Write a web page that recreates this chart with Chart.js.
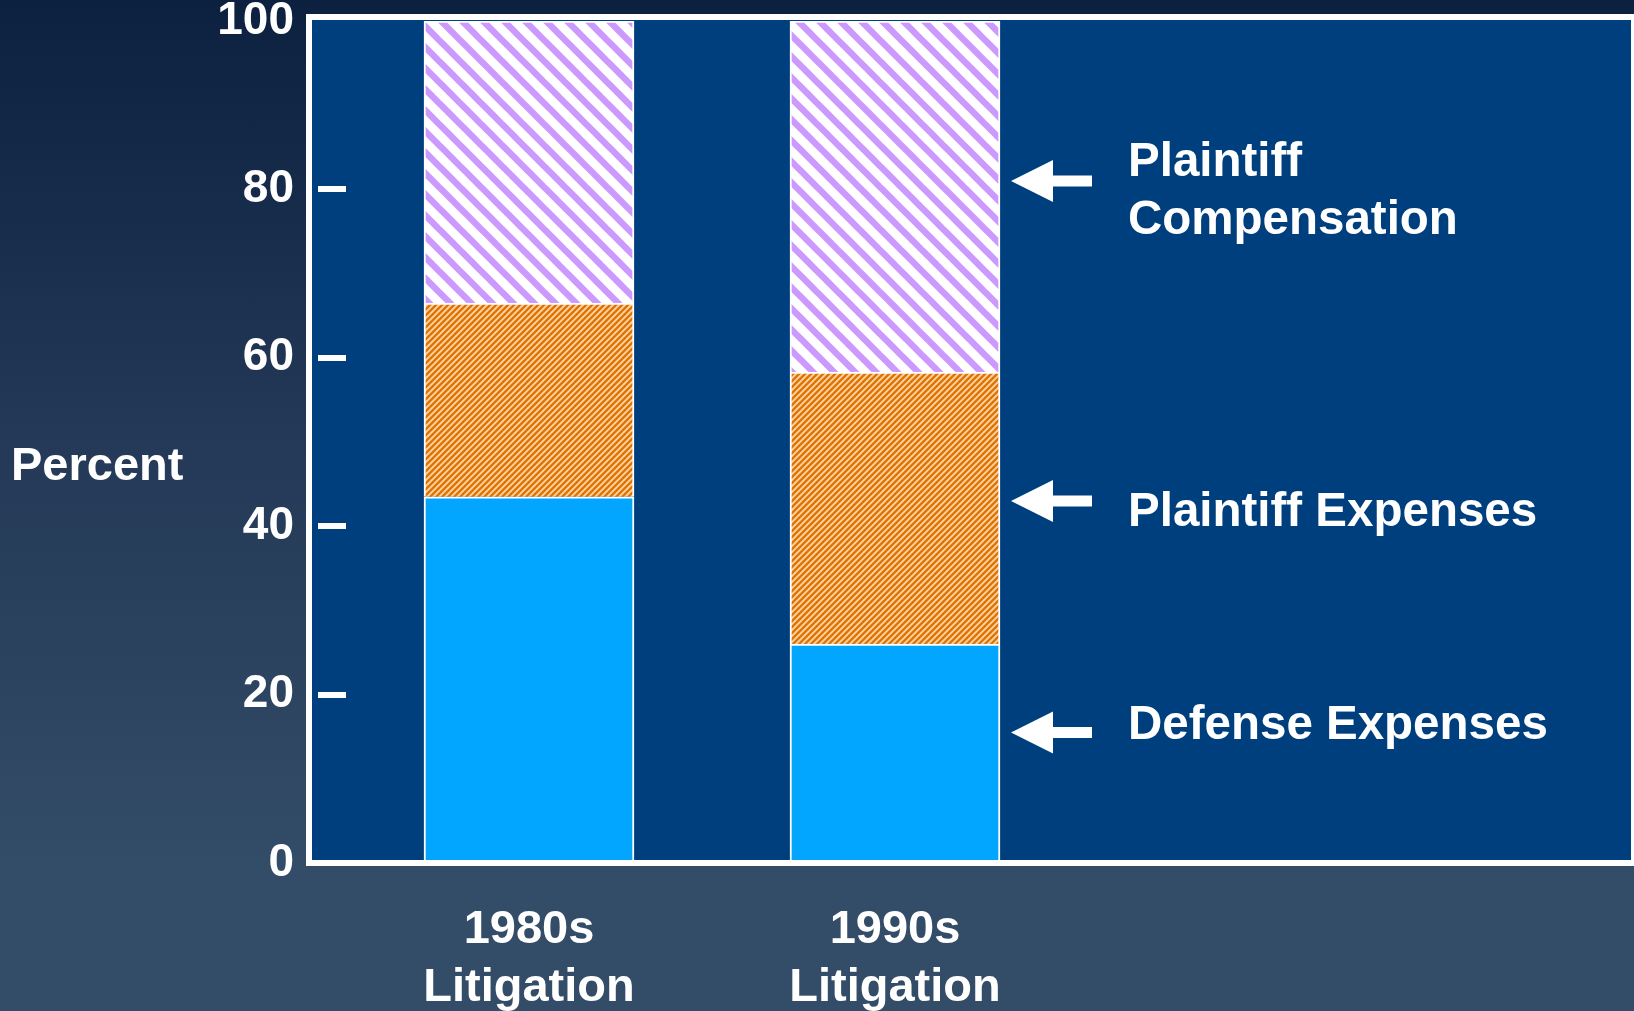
<!DOCTYPE html>
<html><head><meta charset="utf-8">
<script src="https://cdn.jsdelivr.net/npm/chart.js@4.4.1/dist/chart.umd.min.js"></script>
<style>
html,body{margin:0;padding:0;width:1634px;height:1011px;overflow:hidden;
background:linear-gradient(180deg,#0c2040 0%,#243a58 45%,#334c67 86%,#334c67 100%);}
#wrap{position:absolute;left:0;top:0;width:1634px;height:1011px;}
</style></head><body><div id="wrap"><canvas id="c" width="1634" height="1011"></canvas></div>
<script>
// ---- data ----
const categories = [['1980s', 'Litigation'], ['1990s', 'Litigation']];
const seriesNames = ['Defense Expenses', 'Plaintiff Expenses', 'Plaintiff Compensation'];
const defenseExpenses = [43.5, 26];
const plaintiffExpenses = [23, 32.3];
const plaintiffCompensation = [33.5, 41.7];
const yTicks = [0, 20, 40, 60, 80, 100];
const yAxisTitle = 'Percent';
// annotations (top to bottom): text lines, arrow value, text-block centre value
const annotationLines = [['Plaintiff', 'Compensation'], ['Plaintiff Expenses'], ['Defense Expenses']];
const annotationArrowAt = [81, 43, 15.5];
const annotationTextAt = [80.1, 41.9, 16.6];

const FONT = "'Liberation Sans', Arial, Helvetica, sans-serif";
Chart.defaults.font.family = FONT;
Chart.defaults.font.weight = 'bold';
Chart.defaults.color = '#ffffff';

function makePattern(size, bg, fg, lw, dir) {
  const cv = document.createElement('canvas');
  cv.width = size; cv.height = size;
  const g = cv.getContext('2d');
  g.fillStyle = bg; g.fillRect(0, 0, size, size);
  g.strokeStyle = fg; g.lineWidth = lw; g.lineCap = 'square';
  for (let k = -1; k <= 1; k++) {
    g.beginPath();
    if (dir === 'back') { g.moveTo(k * size, 0); g.lineTo(k * size + size, size); }
    else { g.moveTo(k * size, size); g.lineTo(k * size + size, 0); }
    g.stroke();
  }
  return g.createPattern(cv, 'repeat');
}
const purplePattern = makePattern(21, '#ffffff', '#cc99ff', 6.5, 'back');
const orangePattern = makePattern(6, '#e07400', 'rgba(255,225,190,0.9)', 1.8, 'fwd');

const framePlugin = {
  id: 'frame',
  beforeDraw(chart) {
    const c = chart.ctx;
    c.save();
    c.fillStyle = '#003f7e';
    c.fillRect(312, 20, 1319, 840);
    c.strokeStyle = '#ffffff';
    c.lineWidth = 6;
    c.strokeRect(309, 17, 1325, 846);
    c.restore();
  },
  afterDraw(chart) {
    const c = chart.ctx;
    const y = chart.scales.y;
    c.save();
    c.fillStyle = '#ffffff';
    c.font = 'bold 47px ' + FONT;
    c.textBaseline = 'middle';
    c.textAlign = 'left';
    c.fillText(yAxisTitle, 11, 467);
    c.font = 'bold 47.5px ' + FONT;
    annotationLines.forEach((lines, i) => {
      const ay = y.getPixelForValue(annotationArrowAt[i]);
      c.beginPath();
      c.moveTo(1011, ay);
      c.lineTo(1053, ay - 21);
      c.lineTo(1053, ay - 5.5);
      c.lineTo(1092, ay - 5.5);
      c.lineTo(1092, ay + 5.5);
      c.lineTo(1053, ay + 5.5);
      c.lineTo(1053, ay + 21);
      c.closePath();
      c.fill();
      const ty = y.getPixelForValue(annotationTextAt[i]) + 3;
      const lh = 58;
      const y0 = ty - (lines.length - 1) * lh / 2;
      lines.forEach((t, j) => c.fillText(t, 1128, y0 + j * lh));
    });
    c.restore();
  }
};

new Chart(document.getElementById('c'), {
  type: 'bar',
  data: {
    labels: categories,
    datasets: [
      { label: seriesNames[0], data: defenseExpenses, backgroundColor: '#03a6ff' },
      { label: seriesNames[1], data: plaintiffExpenses, backgroundColor: orangePattern },
      { label: seriesNames[2], data: plaintiffCompensation, backgroundColor: purplePattern }
    ]
  },
  options: {
    responsive: false,
    animation: false,
    layout: { padding: { left: 0, top: 21, right: 556, bottom: 0 } },
    datasets: { bar: { barThickness: 210, borderColor: '#ffffff', borderWidth: 2 } },
    plugins: { legend: { display: false }, tooltip: { enabled: false } },
    scales: {
      x: {
        stacked: true,
        grid: { display: false, drawTicks: false },
        border: { display: false },
        ticks: { color: '#ffffff', font: { size: 47, weight: 'bold', lineHeight: 1.24 }, padding: 38, maxRotation: 0, autoSkip: false },
        afterFit(s) { s.height = 148; s.paddingLeft = 0; s.paddingRight = 0; }
      },
      y: {
        stacked: true,
        min: 0, max: 100,
        afterBuildTicks(s) { s.ticks = yTicks.map(v => ({ value: v })); },
        grid: {
          drawOnChartArea: false, tickLength: 28, lineWidth: 6,
          color: (c) => (c.tick && (c.tick.value === 0 || c.tick.value === 100)) ? 'rgba(0,0,0,0)' : '#ffffff'
        },
        border: { display: false },
        ticks: { color: '#ffffff', font: { size: 46, weight: 'bold' }, padding: 24 },
        afterFit(s) { s.width = 346; s.paddingTop = 0; s.paddingBottom = 0; }
      }
    }
  },
  plugins: [framePlugin]
});
</script></body></html>
